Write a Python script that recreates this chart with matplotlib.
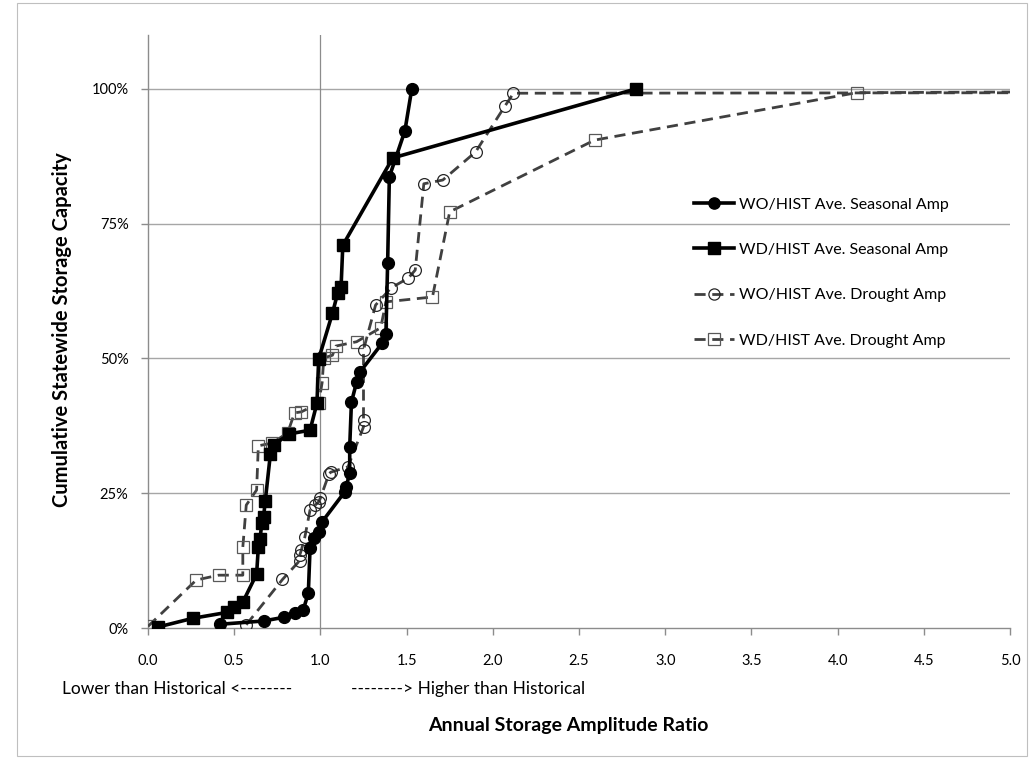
import matplotlib
matplotlib.use("Agg")
import matplotlib.pyplot as plt
from matplotlib.patches import Rectangle

plt.rcParams['font.family'] = ['Lato', 'DejaVu Sans']

# ---- data (ratio, cumulative % capacity) ----
wo_seas_x = [0.42, 0.67, 0.79, 0.85, 0.90, 0.93, 0.94, 0.96, 0.99, 1.01, 1.14, 1.15, 1.17, 1.17,
             1.18, 1.21, 1.23, 1.36, 1.38, 1.39, 1.40, 1.49, 1.53]
wo_seas_y = [0.7, 1.3, 2.0, 2.8, 3.3, 6.5, 14.8, 16.7, 17.8, 19.7, 25.2, 26.2, 28.8, 33.6,
             41.9, 45.6, 47.5, 52.9, 54.5, 67.7, 83.7, 92.2, 100.0]

wd_seas_x = [0.06, 0.26, 0.46, 0.50, 0.55, 0.63, 0.64, 0.65, 0.66, 0.67, 0.68, 0.71, 0.73,
             0.82, 0.94, 0.98, 0.99, 1.07, 1.10, 1.12, 1.13, 1.42, 2.83]
wd_seas_y = [0.2, 1.8, 2.9, 3.9, 4.8, 10.0, 15.0, 16.5, 19.5, 20.5, 23.5, 32.3, 34.0,
             36.0, 36.7, 41.7, 49.9, 58.4, 62.1, 63.3, 71.0, 87.2, 100.0]

wo_drt_x = [0.57, 0.78, 0.88, 0.88, 0.89, 0.91, 0.94, 0.97, 0.99, 1.00, 1.05, 1.06, 1.16,
            1.25, 1.25, 1.25, 1.32, 1.41, 1.51, 1.55, 1.60, 1.71, 1.90, 2.07, 2.12, 5.60]
wo_drt_y = [0.6, 9.0, 12.5, 13.5, 14.5, 16.9, 21.9, 22.8, 23.4, 24.1, 28.6, 28.9, 29.9,
            37.3, 38.6, 51.6, 59.9, 63.1, 64.9, 66.4, 82.4, 83.1, 88.3, 96.8, 99.2, 99.3]

wd_drt_x = [0.00, 0.28, 0.41, 0.55, 0.55, 0.57, 0.63, 0.64, 0.72, 0.81, 0.85, 0.89, 0.99,
            1.01, 1.02, 1.07, 1.09, 1.21, 1.35, 1.38, 1.65, 1.75, 2.59, 4.11, 5.60]
wd_drt_y = [0.3, 8.9, 9.8, 9.8, 15.0, 22.8, 25.6, 33.8, 34.3, 36.2, 39.9, 40.1, 41.7,
            45.5, 50.1, 50.6, 52.3, 53.1, 55.7, 60.5, 61.4, 77.2, 90.5, 99.3, 99.5]

labels = ["WO/HIST Ave. Seasonal Amp", "WD/HIST Ave. Seasonal Amp",
          "WO/HIST Ave. Drought Amp", "WD/HIST Ave. Drought Amp"]
x_ticks = [0.0, 0.5, 1.0, 1.5, 2.0, 2.5, 3.0, 3.5, 4.0, 4.5, 5.0]
y_ticks = [0, 25, 50, 75, 100]

W, H = 1034, 759
fig = plt.figure(figsize=(W / 100, H / 100), dpi=100)
fig.patches.append(Rectangle((17 / W, 3 / H), (1027 - 17) / W, (756 - 3) / H,
                             transform=fig.transFigure, fill=False,
                             edgecolor='#bfbfbf', linewidth=0.8))

ax = fig.add_axes([148 / W, 1 - 628 / H, (1010 - 148) / W, (628 - 35) / H])
ax.set_xlim(0, 5)
ax.set_ylim(0, 110)

grid_c = '#a6a6a6'
for yv in y_ticks[1:]:
    ax.axhline(yv, color=grid_c, lw=1.0, zorder=1)
ax.axvline(1.0, color='#8c8c8c', lw=0.9, zorder=1)

dash = (0, (4, 2.4))
ax.plot(wd_drt_x, wd_drt_y, linestyle=dash, color='#404040', lw=2.0,
        marker='s', ms=8.5, mfc='none', mec='#595959', mew=0.9, zorder=3,
        label=labels[3])
ax.plot(wo_drt_x, wo_drt_y, linestyle=dash, color='#404040', lw=2.0,
        marker='o', ms=8.5, mfc='none', mec='#262626', mew=0.9, zorder=3,
        label=labels[2])
ax.plot(wd_seas_x, wd_seas_y, '-', color='black', lw=2.6,
        marker='s', ms=8.5, mfc='black', mec='black', zorder=4, label=labels[1])
ax.plot(wo_seas_x, wo_seas_y, '-', color='black', lw=2.6,
        marker='o', ms=8.5, mfc='black', mec='black', zorder=5, label=labels[0])

for s in ['top', 'right']:
    ax.spines[s].set_visible(False)
for s in ['left', 'bottom']:
    ax.spines[s].set_color('#8c8c8c')
    ax.spines[s].set_linewidth(1.0)

ax.set_xticks(x_ticks)
ax.set_xticklabels([f"{v:.1f}" for v in x_ticks])
ax.set_yticks(y_ticks)
ax.set_yticklabels([f"{v}%" for v in y_ticks])
ax.tick_params(axis='both', direction='out', length=5, width=1.0, color='#8c8c8c',
               labelsize=10.5, labelcolor='#000000')
ax.tick_params(axis='x', pad=14)
ax.tick_params(axis='y', pad=9)

fig.text(62 / W, 1 - 330 / H, "Cumulative Statewide Storage Capacity", rotation=90,
         ha='center', va='center', fontsize=14.5, fontweight='bold')
fig.text(568 / W, 1 - 725 / H, "Annual Storage Amplitude Ratio",
         ha='center', va='center', fontsize=14, fontweight='bold')
fig.text(62 / W, 1 - 689 / H, "Lower than Historical <--------",
         ha='left', va='center', fontsize=12.5)
fig.text(351 / W, 1 - 689 / H, "--------> Higher than Historical",
         ha='left', va='center', fontsize=12.5)

h, l = ax.get_legend_handles_labels()
order = [3, 2, 1, 0]
leg = fig.legend([h[i] for i in order], [l[i] for i in order],
                 loc='upper left', bbox_to_anchor=(680 / W, 1 - 183 / H),
                 frameon=False, fontsize=11.5, handlelength=2.5, handletextpad=0.3,
                 labelspacing=1.95, markerscale=0.95)

fig.savefig("out.png", dpi=100)
